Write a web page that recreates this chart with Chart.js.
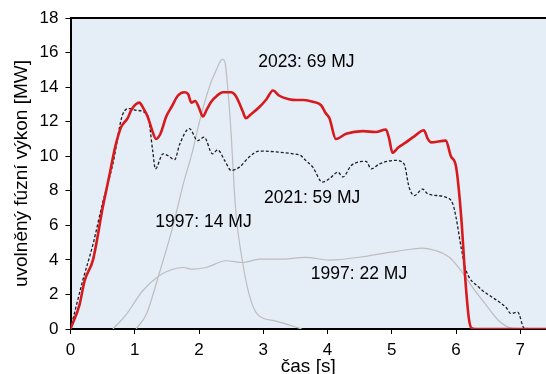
<!DOCTYPE html>
<html>
<head>
<meta charset="utf-8">
<script src="https://cdn.jsdelivr.net/npm/chart.js@4"></script>
<style>
  html, body { margin: 0; padding: 0; background: #fff; }
  #wrap { width: 546px; height: 374px; }
</style>
</head>
<body>
<div id="wrap"><canvas id="fusionChart"></canvas></div>
<script>
// čas [s] a výkon [MW]
const t2023 = [0, 0.14, 0.22, 0.35, 0.5, 0.6, 0.7, 0.79, 0.89, 0.95, 1.07, 1.13, 1.2, 1.27, 1.33, 1.4, 1.49, 1.58, 1.67, 1.77, 1.83, 1.88, 1.94, 2.0, 2.06, 2.12, 2.19, 2.28, 2.37, 2.5, 2.57, 2.63, 2.68, 2.73, 2.8, 2.94, 3.05, 3.15, 3.25, 3.4, 3.51, 3.63, 3.77, 3.9, 3.97, 4.03, 4.13, 4.29, 4.55, 4.75, 4.91, 4.96, 5.01, 5.1, 5.22, 5.35, 5.5, 5.56, 5.61, 5.84, 5.92, 6.0, 6.08, 6.15, 6.2, 6.24, 6.3, 7.4];
const p2023 = [0, 1.4, 2.8, 4.0, 7.0, 8.8, 10.6, 11.7, 12.2, 12.7, 13.1, 12.8, 12.3, 11.5, 11.0, 11.3, 12.3, 12.9, 13.5, 13.7, 13.6, 13.1, 13.2, 12.8, 12.3, 12.7, 13.15, 13.5, 13.7, 13.7, 13.5, 13.05, 12.6, 12.2, 12.4, 12.85, 13.3, 13.8, 13.5, 13.3, 13.25, 13.25, 13.15, 12.95, 12.5, 12.2, 11.0, 11.3, 11.45, 11.4, 11.55, 11.0, 10.2, 10.5, 10.8, 11.15, 11.5, 11.0, 10.8, 10.9, 10.0, 9.4, 6.5, 2.6, 0.6, 0.05, 0, 0];

const t2021 = [0, 0.19, 0.35, 0.5, 0.66, 0.81, 0.92, 1.02, 1.2, 1.28, 1.32, 1.44, 1.51, 1.62, 1.7, 1.85, 1.98, 2.08, 2.21, 2.29, 2.4, 2.5, 2.63, 2.78, 2.94, 3.2, 3.46, 3.58, 3.66, 3.77, 3.92, 4.03, 4.16, 4.24, 4.37, 4.6, 4.68, 4.81, 5.06, 5.19, 5.27, 5.35, 5.48, 5.56, 5.84, 5.95, 6.0, 6.08, 6.15, 6.36, 6.57, 6.78, 6.85, 6.96, 7.06, 7.4];
const p2021 = [0, 2.8, 4.9, 7.3, 9.56, 12.4, 12.76, 12.66, 12.37, 10.3, 9.27, 10.14, 10.05, 9.8, 10.7, 11.6, 10.9, 11.1, 10.14, 10.37, 9.75, 9.18, 9.37, 9.95, 10.3, 10.25, 10.14, 10.05, 9.76, 9.37, 8.5, 8.7, 9.08, 8.8, 9.47, 9.7, 9.27, 9.56, 9.76, 9.56, 8.2, 7.72, 8.1, 7.82, 7.63, 7.24, 6.46, 4.7, 3.46, 2.4, 1.82, 1.24, 0.9, 0.98, 0.05, 0];

const t1997a = [1.02, 1.18, 1.38, 1.59, 1.77, 1.9, 2.0, 2.16, 2.27, 2.36, 2.4, 2.45, 2.5, 2.55, 2.58, 2.65, 2.78, 2.91, 3.2, 3.6];
const p1997a = [0, 0.85, 3.2, 5.9, 8.6, 10.3, 11.9, 14.0, 15.0, 15.6, 15.5, 13.8, 11.3, 8.0, 6.5, 4.5, 2.0, 0.85, 0.46, 0];

const t1997b = [0.66, 0.87, 1.12, 1.38, 1.59, 1.75, 1.9, 2.11, 2.42, 2.68, 2.94, 3.25, 3.66, 4.03, 4.55, 4.96, 5.32, 5.48, 5.69, 5.9, 6.08, 6.26, 6.46, 6.67, 6.88, 7.4];
const p1997b = [0, 0.85, 2.2, 3.08, 3.46, 3.56, 3.46, 3.56, 3.95, 3.85, 4.04, 4.04, 4.14, 3.99, 4.18, 4.43, 4.63, 4.68, 4.53, 4.14, 3.37, 2.4, 1.43, 0.46, 0.04, 0];

const yTicks = [0, 2, 4, 6, 8, 10, 12, 14, 16, 18];
const xTicks = [0, 1, 2, 3, 4, 5, 6, 7];

const toPoints = (xs, ys) => xs.map((x, i) => ({ x: x, y: ys[i] }));

// popisky výstřelů (poloha v souřadnicích grafu)
const shotLabels = [
    { text: '2023: 69 MJ', x: 3.67, y: 15.47 },
    { text: '2021: 59 MJ', x: 3.76, y: 7.55 },
    { text: '1997: 14 MJ', x: 2.07, y: 6.19 },
    { text: '1997: 22 MJ', x: 4.49, y: 3.2 }
];

const plotDecor = {
    id: 'plotDecor',
    beforeDraw(chart) {
        const { ctx, chartArea: a } = chart;
        ctx.save();
        ctx.fillStyle = '#e5edf7';
        ctx.fillRect(a.left, a.top, a.right - a.left, a.bottom - a.top);
        ctx.restore();
    },
    afterDraw(chart) {
        const { ctx, chartArea: a, scales } = chart;
        ctx.save();
        ctx.strokeStyle = '#000';
        ctx.lineWidth = 2;
        ctx.beginPath();
        ctx.moveTo(a.left, a.top);
        ctx.lineTo(a.right, a.top);
        ctx.stroke();

        ctx.fillStyle = '#000';
        ctx.font = '17.5px "Liberation Sans", Arial, sans-serif';
        ctx.textAlign = 'center';
        ctx.textBaseline = 'middle';
        shotLabels.forEach(l => {
            ctx.fillText(l.text, scales.x.getPixelForValue(l.x), scales.y.getPixelForValue(l.y));
        });
        ctx.restore();
    }
};

Chart.defaults.font.family = '"Liberation Sans", Arial, sans-serif';
Chart.defaults.color = '#000';

new Chart(document.getElementById('fusionChart'), {
    type: 'line',
    data: {
        datasets: [
            {
                label: '2023',
                data: toPoints(t2023, p2023),
                borderColor: '#d71a1e',
                borderWidth: 2.6,
                pointRadius: 0,
                cubicInterpolationMode: 'monotone'
            },
            {
                label: '2021',
                data: toPoints(t2021, p2021),
                borderColor: '#1e1e1e',
                borderWidth: 1.3,
                borderDash: [3, 2],
                pointRadius: 0,
                cubicInterpolationMode: 'monotone'
            },
            {
                label: '1997 14 MJ',
                data: toPoints(t1997a, p1997a),
                borderColor: '#bdbdbd',
                borderWidth: 1.2,
                pointRadius: 0,
                cubicInterpolationMode: 'monotone'
            },
            {
                label: '1997 22 MJ',
                data: toPoints(t1997b, p1997b),
                borderColor: '#bdbdbd',
                borderWidth: 1.2,
                pointRadius: 0,
                cubicInterpolationMode: 'monotone'
            }
        ]
    },
    options: {
        responsive: true,
        maintainAspectRatio: false,
        animation: false,
        layout: { padding: { top: 18, right: 0, left: 0, bottom: 0 } },
        plugins: { legend: { display: false }, tooltip: { enabled: false } },
        scales: {
            x: {
                type: 'linear',
                min: 0,
                max: 7.4,
                afterFit: s => { s.height = 45; },
                afterBuildTicks: s => { s.ticks = xTicks.map(v => ({ value: v })); },
                ticks: { font: { size: 17 }, padding: 6, maxRotation: 0 },
                grid: { drawOnChartArea: false, color: '#000', tickLength: 5, lineWidth: 1 },
                border: { display: true, color: '#000', width: 2 },
                title: { display: true, text: 'čas [s]', font: { size: 19, lineHeight: 0.8 }, padding: 0 }
            },
            y: {
                min: 0,
                max: 18,
                afterFit: s => { s.width = 70.5; },
                afterBuildTicks: s => { s.ticks = yTicks.map(v => ({ value: v })); },
                ticks: { font: { size: 17 }, padding: 7 },
                grid: { drawOnChartArea: false, color: '#000', tickLength: 5, lineWidth: 1 },
                border: { display: true, color: '#000', width: 2 },
                title: { display: true, text: 'uvolněný fúzní výkon [MW]', font: { size: 19 }, padding: { top: 10, bottom: 0 } }
            }
        }
    },
    plugins: [plotDecor]
});
</script>
</body>
</html>
